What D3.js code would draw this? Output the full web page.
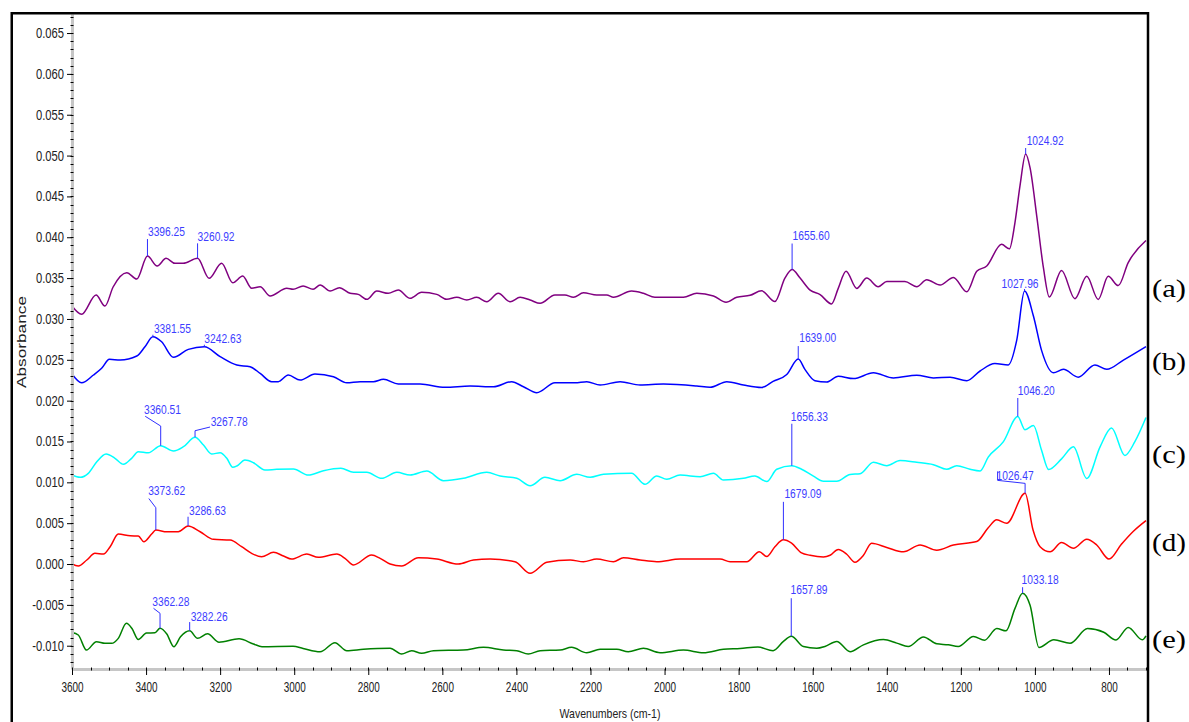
<!DOCTYPE html>
<html>
<head>
<meta charset="utf-8">
<script src="https://cdn.jsdelivr.net/npm/d3@7"></script>
<style>
  body { margin: 0; background: #fff; }
  svg { display: block; }
</style>
</head>
<body>
<svg id="chart" width="1189" height="722"></svg>
<script>
// FTIR absorbance spectra: [wavenumber (cm-1), absorbance]
const spectrumA = [[3600,0.03158],[3574,0.03057],[3535,0.03293],[3511,0.03158],[3489,0.03391],[3452,0.03566],[3425,0.03489],[3396.25,0.03770],[3370,0.03648],[3346,0.03742],[3322,0.03681],[3300,0.03681],[3260.92,0.03742],[3230,0.03497],[3196,0.03681],[3166,0.03443],[3139,0.03525],[3115,0.03375],[3092,0.03395],[3065,0.03281],[3020,0.03375],[3003,0.03363],[2976,0.03403],[2949,0.03363],[2930,0.03415],[2903,0.03342],[2878,0.03382],[2849,0.03314],[2827,0.03301],[2804,0.03240],[2777,0.03342],[2746,0.03314],[2719,0.03354],[2687,0.03253],[2656,0.03326],[2615,0.03301],[2588,0.03240],[2561,0.03265],[2534,0.03232],[2507,0.03265],[2480,0.03211],[2449,0.03314],[2417,0.03211],[2390,0.03265],[2363,0.03232],[2336,0.03191],[2296,0.03293],[2269,0.03293],[2246,0.03265],[2219,0.03321],[2183,0.03293],[2156,0.03293],[2138,0.03265],[2089,0.03342],[2057,0.03314],[2026,0.03265],[1949,0.03265],[1913,0.03314],[1868,0.03281],[1834,0.03204],[1805,0.03265],[1769,0.03289],[1738,0.03344],[1702,0.03213],[1675,0.03500],[1655.60,0.03605],[1634,0.03500],[1607,0.03353],[1580,0.03298],[1549,0.03184],[1531,0.03374],[1510,0.03584],[1481,0.03374],[1454,0.03500],[1423,0.03395],[1400,0.03458],[1351,0.03458],[1319,0.03395],[1292,0.03479],[1256,0.03415],[1220,0.03508],[1184,0.03332],[1157,0.03584],[1130,0.03648],[1090,0.03914],[1069,0.03858],[1054,0.04174],[1040,0.04638],[1024.92,0.05019],[1013,0.04849],[995,0.04259],[977,0.03627],[961,0.03268],[928,0.03593],[892,0.03248],[860,0.03522],[829,0.03239],[802,0.03522],[775,0.03408],[748,0.03690],[700,0.03960]];

const spectrumB = [[3600,0.02326],[3574,0.02219],[3542,0.02314],[3520,0.02396],[3499,0.02506],[3470,0.02497],[3425,0.02546],[3403,0.02660],[3381.55,0.02782],[3358,0.02721],[3326,0.02530],[3286,0.02628],[3242.63,0.02660],[3200,0.02538],[3155,0.02436],[3119,0.02415],[3092,0.02334],[3061,0.02232],[3043,0.02232],[3016,0.02314],[2984,0.02252],[2944,0.02326],[2894,0.02293],[2858,0.02219],[2822,0.02232],[2786,0.02232],[2759,0.02261],[2719,0.02203],[2660,0.02203],[2593,0.02163],[2525,0.02179],[2462,0.02170],[2413,0.02232],[2381,0.02170],[2345,0.02097],[2296,0.02219],[2242,0.02219],[2210,0.02232],[2174,0.02191],[2120,0.02232],[2066,0.02191],[2003,0.02203],[1913,0.02179],[1877,0.02163],[1832,0.02232],[1787,0.02191],[1738,0.02161],[1707,0.02235],[1670,0.02320],[1639.00,0.02509],[1621,0.02383],[1594,0.02244],[1562,0.02227],[1531,0.02299],[1490,0.02270],[1436,0.02341],[1382,0.02278],[1319,0.02311],[1274,0.02278],[1229,0.02287],[1184,0.02244],[1148,0.02363],[1108,0.02454],[1072,0.02437],[1049,0.02741],[1027.96,0.03342],[1004,0.03036],[982,0.02615],[950,0.02341],[923,0.02383],[883,0.02287],[838,0.02437],[806,0.02383],[761,0.02497],[700,0.02662]];

const spectrumC = [[3600,0.01089],[3578,0.01061],[3556,0.01110],[3533,0.01252],[3508,0.01347],[3484,0.01294],[3461,0.01220],[3439,0.01294],[3421,0.01375],[3394,0.01362],[3360.51,0.01448],[3326,0.01383],[3299,0.01436],[3267.78,0.01551],[3245,0.01457],[3223,0.01347],[3200,0.01362],[3182,0.01294],[3166,0.01184],[3155,0.01200],[3133,0.01273],[3110,0.01240],[3079,0.01151],[3047,0.01159],[3002,0.01163],[2962,0.01089],[2921,0.01142],[2874,0.01172],[2840,0.01123],[2804,0.01123],[2764,0.01049],[2723,0.01123],[2687,0.01089],[2642,0.01138],[2597,0.01020],[2543,0.01049],[2480,0.01123],[2444,0.01077],[2399,0.01049],[2363,0.00958],[2323,0.01061],[2282,0.01020],[2237,0.01098],[2201,0.01061],[2165,0.01098],[2089,0.01110],[2053,0.00976],[2021,0.01077],[1994,0.01037],[1958,0.01089],[1904,0.01069],[1868,0.01110],[1841,0.01028],[1787,0.01049],[1756,0.01077],[1724,0.01010],[1697,0.01160],[1656.33,0.01203],[1630,0.01160],[1598,0.01076],[1571,0.01014],[1535,0.01014],[1499,0.01097],[1472,0.01105],[1436,0.01245],[1400,0.01203],[1364,0.01266],[1319,0.01245],[1274,0.01216],[1238,0.01160],[1211,0.01203],[1175,0.01160],[1148,0.01140],[1126,0.01309],[1085,0.01498],[1046.20,0.01806],[1027,0.01645],[1004,0.01695],[982,0.01393],[963,0.01157],[928,0.01287],[896,0.01435],[860,0.01047],[824,0.01435],[793,0.01666],[757,0.01329],[730,0.01498],[700,0.01793]];

const spectrumD = [[3600,0.00000],[3583,-0.00024],[3560,0.00049],[3538,0.00131],[3515,0.00122],[3497,0.00212],[3475,0.00367],[3443,0.00346],[3421,0.00343],[3406,0.00273],[3385,0.00367],[3373.62,0.00416],[3344,0.00395],[3313,0.00395],[3286.63,0.00465],[3254,0.00395],[3218,0.00302],[3173,0.00294],[3142,0.00212],[3115,0.00131],[3088,0.00089],[3056,0.00143],[3029,0.00098],[3007,0.00061],[2966,0.00122],[2935,0.00082],[2885,0.00122],[2863,0.00070],[2840,-0.00012],[2791,0.00110],[2768,0.00070],[2741,0.00000],[2710,-0.00024],[2665,0.00077],[2615,0.00061],[2557,0.00000],[2516,0.00049],[2471,0.00061],[2404,0.00028],[2363,-0.00114],[2318,0.00021],[2255,0.00049],[2219,0.00028],[2183,0.00061],[2138,0.00028],[2111,0.00077],[2066,0.00049],[2021,0.00028],[1958,0.00061],[1850,0.00061],[1823,0.00028],[1778,0.00028],[1744,0.00151],[1724,0.00092],[1702,0.00212],[1679.09,0.00296],[1657,0.00255],[1630,0.00136],[1607,0.00107],[1571,0.00086],[1553,0.00107],[1531,0.00179],[1508,0.00120],[1486,0.00022],[1463,0.00107],[1441,0.00255],[1400,0.00203],[1355,0.00149],[1310,0.00233],[1265,0.00170],[1220,0.00233],[1157,0.00275],[1126,0.00444],[1103,0.00541],[1076,0.00499],[1026.47,0.00865],[1005,0.00416],[986,0.00212],[959,0.00149],[928,0.00263],[896,0.00192],[860,0.00304],[833,0.00233],[800,0.00061],[766,0.00245],[734,0.00402],[700,0.00532]];

const spectrumE = [[3600,-0.00839],[3583,-0.00869],[3561,-0.01053],[3534,-0.00951],[3511,-0.00971],[3493,-0.00971],[3475,-0.00910],[3453,-0.00726],[3438,-0.00790],[3421,-0.00924],[3399,-0.00845],[3376,-0.00841],[3362.28,-0.00787],[3344,-0.00857],[3325,-0.01012],[3307,-0.00890],[3282.26,-0.00817],[3261,-0.00910],[3234,-0.00853],[3203,-0.00957],[3149,-0.00916],[3110,-0.00979],[3087,-0.01012],[3003,-0.01007],[2976,-0.01034],[2930,-0.01074],[2890,-0.00963],[2858,-0.01061],[2813,-0.01044],[2741,-0.01032],[2710,-0.01102],[2683,-0.01061],[2656,-0.01093],[2624,-0.01061],[2543,-0.01053],[2489,-0.01020],[2435,-0.01053],[2399,-0.01061],[2368,-0.01102],[2336,-0.01061],[2282,-0.01053],[2251,-0.01020],[2210,-0.01086],[2174,-0.01044],[2129,-0.01044],[2098,-0.01074],[2057,-0.01032],[2012,-0.01086],[1949,-0.01053],[1895,-0.01086],[1841,-0.01044],[1796,-0.01034],[1748,-0.01016],[1707,-0.01061],[1679,-0.00947],[1657.89,-0.00884],[1625,-0.01010],[1589,-0.01032],[1567,-0.01010],[1535,-0.00947],[1499,-0.01074],[1463,-0.00989],[1409,-0.00925],[1373,-0.00968],[1342,-0.01010],[1301,-0.00892],[1265,-0.00977],[1234,-0.00989],[1207,-0.01010],[1166,-0.00887],[1136,-0.00933],[1103,-0.00790],[1078,-0.00818],[1054,-0.00546],[1033.18,-0.00357],[1013,-0.00504],[989,-0.01022],[949,-0.00928],[905,-0.00970],[858,-0.00790],[814,-0.00835],[781,-0.00929],[748,-0.00777],[710,-0.00928],[700,-0.00879]];

// labelled peak positions (cm-1) of each spectrum
const peaksA = [3396.25, 3260.92, 1655.60, 1024.92];
const peaksB = [3381.55, 3242.63, 1639.00, 1027.96];
const peaksC = [3360.51, 3267.78, 1656.33, 1046.20];
const peaksD = [3373.62, 3286.63, 1679.09, 1026.47];
const peaksE = [3362.28, 3282.26, 1657.89, 1033.18];

const seriesTags = ["(a)", "(b)", "(c)", "(d)", "(e)"];
const xTicks = [3600, 3400, 3200, 3000, 2800, 2600, 2400, 2200, 2000, 1800, 1600, 1400, 1200, 1000, 800];
const yTicks = [-0.010, -0.005, 0.000, 0.005, 0.010, 0.015, 0.020, 0.025, 0.030, 0.035, 0.040, 0.045, 0.050, 0.055, 0.060, 0.065];
const xTitle = "Wavenumbers (cm-1)";
const yTitle = "Absorbance";

// ---- styling / layout ----
const spectra = [spectrumA, spectrumB, spectrumC, spectrumD, spectrumE];
const peakSets = [peaksA, peaksB, peaksC, peaksD, peaksE];
const lineColors = ["#800080", "#0000ff", "#00ffff", "#ff0000", "#008000"];
const tagBaselines = [297, 370, 463, 551, 648];
// label text offset (from the peak) and leader polyline for each peak label
const labelLayout = [
  [ {dx:0.5, dy:-20, lead:[[0,0],[0,-17]]},
    {dx:0, dy:-17, lead:[[0,0],[0,-15]]},
    {dx:0.5, dy:-29.5, lead:[[0,0],[0,-26]]},
    {dx:1, dy:-9.5, lead:[[0,0],[0,-6]]} ],
  [ {dx:1, dy:-4, lead:[[0,0],[0,-2]]},
    {dx:0, dy:-4, lead:[[0,0],[0,-2]]},
    {dx:1, dy:-17, lead:[[0,0],[0,-13]]},
    {dx:-23, dy:-3.5, lead:[[0,0],[0,-2]]} ],
  [ {dx:-16.7, dy:-31.7, lead:[[0,0],[0,-19.7],[-15.5,-29.5]]},
    {dx:15.6, dy:-11.3, lead:[[0,0],[0,-6.6],[15,-10.3]]},
    {dx:-1, dy:-44.7, lead:[[0,0],[0,-42]]},
    {dx:0, dy:-21.5, lead:[[0,0],[0,-18.5]]} ],
  [ {dx:-7.7, dy:-35, lead:[[0,0],[0,-22.3],[-7,-31.5]]},
    {dx:1, dy:-11.5, lead:[[0,0],[0,-9.3]]},
    {dx:1, dy:-41.8, lead:[[0,0],[0,-38]]},
    {dx:-28.5, dy:-13.8, lead:[[0,0],[0,-10],[-27.5,-13],[-27.5,-22]]} ],
  [ {dx:-7.7, dy:-22.8, lead:[[0,0],[0,-15],[-6.5,-20]]},
    {dx:1, dy:-10.2, lead:[[0,0],[0,-8.7]]},
    {dx:-0.7, dy:-42.2, lead:[[0,0],[0,-38]]},
    {dx:-1, dy:-9.2, lead:[[0,0],[0,-6]]} ]
];

const SANS = "'Liberation Sans', Arial, Helvetica, sans-serif";
const SERIF = "'Liberation Serif', 'Times New Roman', Times, serif";
const labelColor = "#3d3dff";
const leaderColor = "#2f2fff";

const plot = {left: 72, right: 1146, top: 14, bottom: 669};
const svg = d3.select("#chart");
svg.append("rect").attr("width", 1189).attr("height", 722).attr("fill", "#fff");

const x = d3.scaleLinear().domain([3600, 700]).range([plot.left, plot.right]);
const y = d3.scaleLinear().domain([-0.01285, 0.06733]).range([plot.bottom, plot.top]);

// condense text horizontally by a factor, or to a fixed width
function squeeze(sel, factor) {
  sel.each(function () {
    const w = this.getComputedTextLength();
    this.setAttribute("textLength", (w * factor).toFixed(2));
    this.setAttribute("lengthAdjust", "spacingAndGlyphs");
  });
}
function fixWidth(sel, width) {
  sel.attr("textLength", width).attr("lengthAdjust", "spacingAndGlyphs");
}

// ---- spectra ----
const line = d3.line()
  .x(d => x(d[0]))
  .y(d => y(d[1]))
  .curve(d3.curveMonotoneX);

svg.append("g").selectAll("path")
  .data(spectra)
  .join("path")
  .attr("d", line)
  .attr("fill", "none")
  .attr("stroke", (d, i) => lineColors[i])
  .attr("stroke-width", 1.5)
  .attr("stroke-linejoin", "round");

// ---- peak annotations ----
const ann = svg.append("g");
peakSets.forEach((peaks, si) => {
  peaks.forEach((wn, j) => {
    const pt = spectra[si].find(p => p[0] === wn);
    const px = x(wn), py = y(pt[1]);
    const lay = labelLayout[si][j];
    ann.append("path")
      .attr("d", d3.line()(lay.lead.map(([dx, dy]) => [px + dx, py + dy])))
      .attr("fill", "none")
      .attr("stroke", leaderColor)
      .attr("stroke-width", 1);
    ann.append("text")
      .attr("x", px + lay.dx)
      .attr("y", py + lay.dy)
      .attr("font-family", SANS)
      .attr("font-size", 13)
      .attr("fill", labelColor)
      .text(wn.toFixed(2))
      .call(fixWidth, 37);
  });
});

// ---- axes ----
const yAxis = d3.axisLeft(y)
  .tickValues(yTicks)
  .tickFormat(d => d.toFixed(3))
  .tickSizeInner(5)
  .tickSizeOuter(0)
  .tickPadding(3);
const gy = svg.append("g").attr("transform", `translate(${plot.left},0)`).call(yAxis);
gy.select(".domain").attr("stroke", "#c6c6c6").attr("stroke-width", 3);
gy.selectAll(".tick line").attr("stroke", "#000").attr("stroke-width", 1);
gy.selectAll(".tick text")
  .attr("font-family", SANS).attr("font-size", 14).attr("fill", "#222")
  .call(squeeze, 0.8);

const yMinor = d3.range(-12, 68).map(i => i / 1000);
svg.append("g").selectAll("line")
  .data(yMinor)
  .join("line")
  .attr("x1", plot.left - 1.5).attr("x2", plot.left + 1.5)
  .attr("y1", d => Math.round(y(d)) + 0.5).attr("y2", d => Math.round(y(d)) + 0.5)
  .attr("stroke", "#000").attr("stroke-width", 1);

const xAxis = d3.axisBottom(x)
  .tickValues(xTicks)
  .tickFormat(d3.format("d"))
  .tickSizeInner(6)
  .tickSizeOuter(0)
  .tickPadding(7);
const gx = svg.append("g").attr("transform", `translate(0,${plot.bottom})`).call(xAxis);
gx.select(".domain").attr("stroke", "#c6c6c6").attr("stroke-width", 3);
gx.selectAll(".tick line").attr("stroke", "#000").attr("stroke-width", 1);
gx.selectAll(".tick text")
  .attr("font-family", SANS).attr("font-size", 14).attr("fill", "#222")
  .call(squeeze, 0.71);

const xMinor = d3.range(700, 3601, 50);
svg.append("g").selectAll("line")
  .data(xMinor)
  .join("line")
  .attr("x1", d => Math.round(x(d)) + 0.5).attr("x2", d => Math.round(x(d)) + 0.5)
  .attr("y1", plot.bottom - 1.5).attr("y2", plot.bottom + 1.5)
  .attr("stroke", "#000").attr("stroke-width", 1);

// axis titles
svg.append("text")
  .attr("x", 610).attr("y", 718)
  .attr("text-anchor", "middle")
  .attr("font-family", SANS).attr("font-size", 13.5).attr("fill", "#222")
  .text(xTitle)
  .call(fixWidth, 101);

svg.append("text")
  .attr("transform", "translate(25.5,342) rotate(-90)")
  .attr("text-anchor", "middle")
  .attr("font-family", SANS).attr("font-size", 12).attr("fill", "#222")
  .text(yTitle)
  .call(fixWidth, 92);

// spectrum tags on the right
svg.append("g").selectAll("text")
  .data(seriesTags)
  .join("text")
  .attr("x", 1152)
  .attr("y", (d, i) => tagBaselines[i])
  .attr("font-family", SERIF).attr("font-size", 26).attr("fill", "#000")
  .text(d => d)
  .call(fixWidth, 34);

// outer frame
svg.append("path")
  .attr("d", "M11.75,722V13.25H1148V722")
  .attr("fill", "none")
  .attr("stroke", "#000")
  .attr("stroke-width", 2.5);
</script>
</body>
</html>
